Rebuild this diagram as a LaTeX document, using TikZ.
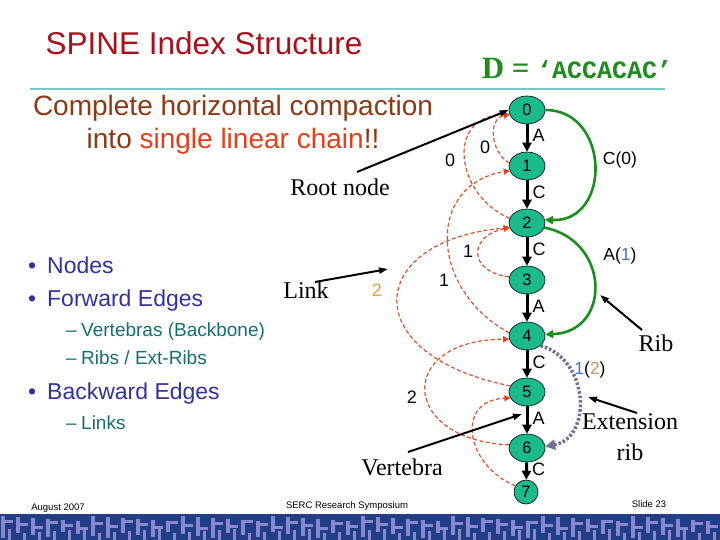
\documentclass[tikz,border=0pt]{standalone}
\usepackage{fontspec}
\setmainfont{Liberation Serif}
\setsansfont{Liberation Sans}
\setmonofont{Liberation Mono}
\usetikzlibrary{shapes.geometric,arrows.meta}
\definecolor{titlered}{RGB}{168,16,28}
\definecolor{brownc}{RGB}{140,58,22}
\definecolor{redc}{RGB}{226,64,28}
\definecolor{bulletblue}{RGB}{51,51,153}
\definecolor{tealc}{RGB}{22,112,112}
\definecolor{greenD}{RGB}{30,140,30}
\definecolor{nodegreen}{RGB}{28,186,138}
\definecolor{ribgreen}{RGB}{30,140,30}
\definecolor{linkc}{RGB}{210,86,46}
\definecolor{linktip}{RGB}{236,60,24}
\definecolor{orangec}{RGB}{232,160,64}
\definecolor{bluec}{RGB}{64,112,208}
\definecolor{tanc}{RGB}{208,144,96}
\definecolor{extc}{RGB}{110,110,150}
\definecolor{rulec}{RGB}{120,200,200}
\definecolor{footblue}{RGB}{34,62,134}
\definecolor{footlav}{RGB}{136,136,206}
\begin{document}
\begin{tikzpicture}[x=1pt,y=-1pt,
  snode/.style={ellipse,draw=black,line width=0.6pt,fill=nodegreen,minimum width=36pt,minimum height=28pt,inner sep=0pt,font=\sffamily\fontsize{16.5}{16.5}\selectfont},
  spine/.style={line width=3pt,-{Triangle[length=9pt,width=9pt]}},
  elab/.style={right,pos=0.42,inner sep=4pt,font=\sffamily\fontsize{18}{18}\selectfont},
  linkedge/.style={linkc,dashed,line width=1.2pt,dash pattern=on 4pt off 2.5pt,-{Triangle[length=6pt,width=6pt,fill=linktip,color=linktip]}},
  llab/.style={font=\sffamily\fontsize{18}{18}\selectfont,inner sep=0pt},
  rib/.style={ribgreen,line width=2.6pt,-{Triangle[length=8pt,width=8pt]}},
  extrib/.style={extc,line width=3.5pt,dash pattern=on 2.5pt off 2pt,-{Triangle[length=10pt,width=10pt]}},
  annot/.style={black,line width=2pt,-{Triangle[length=9pt,width=6pt]}},
  serifl/.style={font=\rmfamily\fontsize{24}{24}\selectfont,inner sep=0pt},
  riblab/.style={font=\sffamily\fontsize{17.5}{17.5}\selectfont,inner sep=0pt},
  bul/.style={bulletblue,font=\sffamily\fontsize{23}{23}\selectfont,inner sep=0pt,anchor=base west},
  sub/.style={tealc,font=\sffamily\fontsize{19}{19}\selectfont,inner sep=0pt,anchor=base west},
  foot/.style={font=\sffamily\fontsize{9.5}{9.5}\selectfont,inner sep=0pt}
]
\useasboundingbox (0,0) rectangle (720,540);
\fill[white] (0,0) rectangle (720,540);

% title and header
\node[titlered,font=\sffamily\fontsize{31.5}{31.5}\selectfont,inner sep=0pt] (title) at (204,43) {SPINE Index Structure};
\node[greenD,inner sep=0pt] (dstr) at (577,68) {{\rmfamily\bfseries\fontsize{31}{31}\selectfont D =}\ \ \ {\ttfamily\bfseries\fontsize{25}{25}\selectfont ‘ACCACAC’}};
\draw[rulec,line width=1.2pt] (30,89) -- (665,89);

\node[brownc,font=\sffamily\fontsize{28}{28}\selectfont,inner sep=0pt] (comp1) at (233,108) {Complete horizontal compaction};
\node[brownc,font=\sffamily\fontsize{28}{28}\selectfont,inner sep=0pt] (comp2) at (233,141) {into {\color{redc}single linear chain}!!};

% bullets
\node[bul] (t1) at (28,273) {\makebox[19pt][l]{•}Nodes};
\node[bul] (t2) at (28,306) {\makebox[19pt][l]{•}Forward Edges};
\node[sub] (s1) at (66,336) {\makebox[15pt][l]{–}Vertebras (Backbone)};
\node[sub] (s2) at (66,364) {\makebox[15pt][l]{–}Ribs / Ext-Ribs};
\node[bul] (t3) at (28,399) {\makebox[19pt][l]{•}Backward Edges};
\node[sub] (s3) at (66,429) {\makebox[15pt][l]{–}Links};

% spine nodes
\node[snode] (n0) at (527,110) {0};
\node[snode] (n1) at (527,166) {1};
\node[snode] (n2) at (527,223) {2};
\node[snode] (n3) at (527,280) {3};
\node[snode] (n4) at (527,336) {4};
\node[snode] (n5) at (527,392) {5};
\node[snode] (n6) at (527,448) {6};
\node[snode,minimum width=24pt,minimum height=24pt] (n7) at (526,492) {7};

% vertebras
\draw[spine] (n0) -- node[elab] {A} (n1);
\draw[spine] (n1) -- node[elab] {C} (n2);
\draw[spine] (n2) -- node[elab] {C} (n3);
\draw[spine] (n3) -- node[elab] {A} (n4);
\draw[spine] (n4) -- node[elab] {C} (n5);
\draw[spine] (n5) -- node[elab] {A} (n6);
\draw[spine] (n6) -- node[elab] {C} (n7);

% ribs
\draw[rib] (n0.east) .. controls (610,110) and (612,222) .. (n2.10);
\draw[rib] (n2.-15) .. controls (610,240) and (612,332) .. (n4.5);
\draw[extrib] (n4.-35) .. controls (590,360) and (592,438) .. (n6.5);
\node[riblab] (rl0) at (620,160) {C(0)};
\node[riblab] (rl1) at (620,256) {A({\color{bluec}1})};
\node[riblab] (rl2) at (590,370) {{\color{bluec}1}({\color{tanc}2})};

% links
\draw[linkedge] (n1.170) .. controls (490,152) and (488,118) .. (n0.195);
\draw[linkedge] (n2.165) .. controls (455,195) and (445,115) .. (n0.195);
\draw[linkedge] (n3.170) .. controls (468,272) and (468,236) .. (n2.195);
\draw[linkedge] (n4.170) .. controls (430,290) and (425,185) .. (n1.195);
\draw[linkedge] (n5.160) .. controls (355,355) and (365,240) .. (n2.195);
\draw[linkedge] (n6.170) .. controls (400,440) and (395,340) .. (n4.190);
\draw[linkedge] (n7.150) .. controls (465,465) and (455,400) .. (n5.200);
\node[llab] (ll1) at (485,147) {0};
\node[llab] (ll2) at (450,160) {0};
\node[llab] (ll3) at (468,251) {1};
\node[llab] (ll4) at (444,280) {1};
\node[llab,orangec] (ll5) at (377,290) {2};
\node[llab] (ll6) at (412,397) {2};

% annotations
\node[serifl] (root) at (340,187) {Root node};
\coordinate (rootA) at (357,172);
\draw[annot] (rootA) -- (n0.west);
\node[serifl] (link) at (306,290) {Link};
\coordinate (linkA) at (315,282);
\coordinate (linkB) at (388,269);
\draw[annot] (linkA) -- (linkB);
\node[serifl] (vert) at (402,467) {Vertebra};
\coordinate (vertA) at (408,452);
\coordinate (vertB) at (522,414);
\draw[annot] (vertA) -- (vertB);
\node[serifl] (ribt) at (656,343) {Rib};
\coordinate (ribA) at (642,330);
\coordinate (ribB) at (600,295);
\draw[annot] (ribA) -- (ribB);
\node[serifl] (ext1) at (630,422) {Extension};
\node[serifl] (ext2) at (630,452) {rib};
\coordinate (extA) at (637,413);
\coordinate (extB) at (588,397);
\draw[annot] (extA) -- (extB);

% footer
\node[foot] (f1) at (58,508) {August 2007};
\node[foot] (f2) at (347,506) {SERC Research Symposium};
\node[foot] (f3) at (649,504) {Slide 23};
\fill[footblue] (0,514) rectangle (720,540);
\foreach \i in {0,...,47}{
  \fill[footlav] ({\i*15+1},{516+mod(\i*7,6)}) rectangle ({\i*15+5},{538-mod(\i*5,7)});
  \fill[footlav] ({\i*15+5},{520+mod(\i*3,8)}) rectangle ({\i*15+13},{523+mod(\i*3,8)});
  \fill[footlav] ({\i*15+8},{529+mod(\i*4,5)}) rectangle ({\i*15+11},{540});
}
\end{tikzpicture}
\end{document}
